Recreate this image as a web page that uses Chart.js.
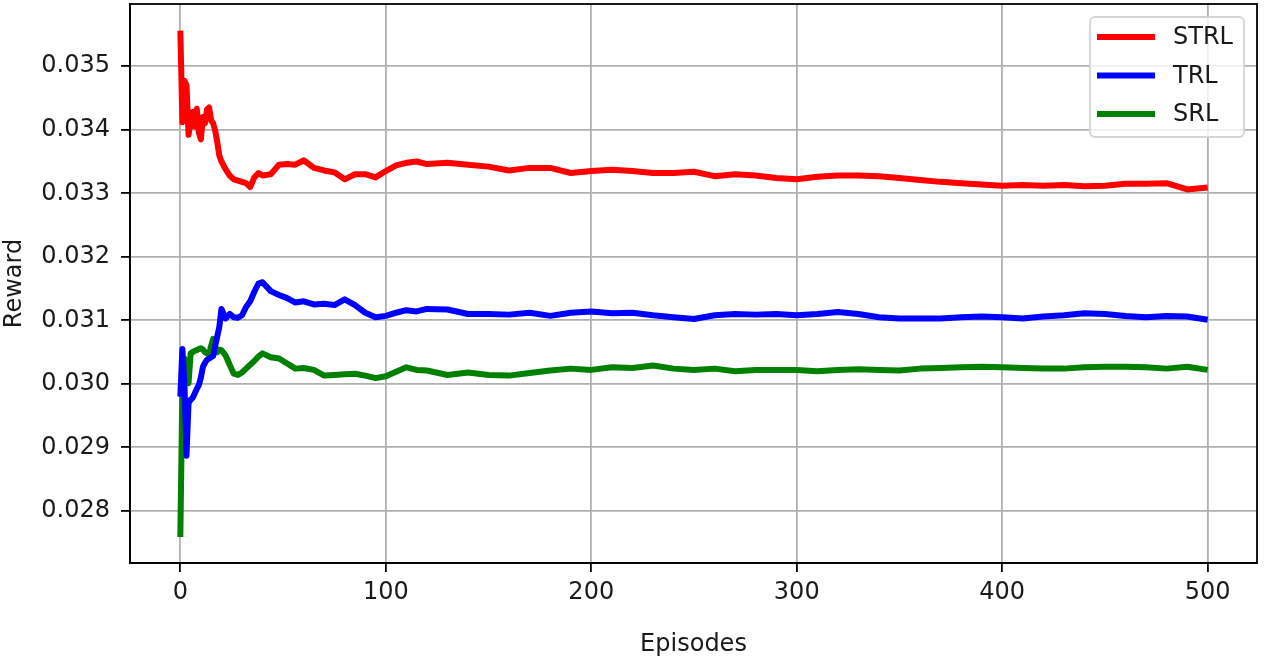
<!DOCTYPE html>
<html>
<head>
<meta charset="utf-8">
<script src="https://cdn.jsdelivr.net/npm/chart.js@4.4.1/dist/chart.umd.min.js"></script>
<style>
  html, body { margin: 0; padding: 0; background: #fff; }
  #wrap { width: 1275px; height: 662px; }
</style>
</head>
<body>
<div id="wrap"><canvas id="rewardChart" width="1275" height="662"></canvas></div>
<script>
// episodes (dense where the curves are noisy)
var episodes = [0, 1, 2, 3, 4, 5, 6, 7, 8, 9, 10, 11, 12, 13, 14, 15, 16, 17, 18, 19, 20,
    22, 24, 26, 28, 30, 32, 34, 36, 38, 40,
    44, 48, 52, 56, 60,
    65, 70, 75, 80, 85, 90, 95, 100, 105, 110, 115, 120,
    130, 140, 150, 160, 170, 180, 190, 200, 210, 220, 230, 240, 250, 260, 270, 280, 290, 300,
    310, 320, 330, 340, 350, 360, 370, 380, 390, 400, 410, 420, 430, 440, 450, 460, 470, 480, 490, 500];

var strlReward = [0.03556, 0.03412, 0.03477, 0.03470, 0.03392, 0.03415, 0.03428, 0.03405, 0.03433, 0.03395, 0.03385,
    0.03420, 0.03410, 0.03432, 0.03435, 0.03415, 0.03410, 0.03398, 0.03380, 0.03359, 0.03350,
    0.03338, 0.03328, 0.03322, 0.03320, 0.03318, 0.03316, 0.03310, 0.03325, 0.03332, 0.03328,
    0.03330, 0.03345, 0.03346, 0.03345, 0.03352,
    0.03340, 0.03336, 0.03333, 0.03322, 0.03330, 0.03330, 0.03325, 0.03335, 0.03344, 0.03348, 0.03350, 0.03346,
    0.03348, 0.03345, 0.03342, 0.03336, 0.03340, 0.03340, 0.03332, 0.03335, 0.03337, 0.03335,
    0.03332, 0.03332, 0.03334, 0.03327, 0.03330, 0.03328, 0.03324, 0.03322, 0.03326, 0.03328,
    0.03328, 0.03327, 0.03324, 0.03321, 0.03318, 0.03316, 0.03314, 0.03312, 0.03313, 0.03312,
    0.03313, 0.03311, 0.03312, 0.03315, 0.03315, 0.03316, 0.03306, 0.03309];

var trlReward = [0.02980, 0.03055, 0.03000, 0.02887, 0.02970, 0.02975, 0.02978, 0.02985, 0.02992, 0.02998, 0.03010,
    0.03027, 0.03033, 0.03038, 0.03040, 0.03042, 0.03044, 0.03060, 0.03075, 0.03090, 0.03118,
    0.03103, 0.03110, 0.03105, 0.03104, 0.03108, 0.03121, 0.03130, 0.03145, 0.03158, 0.03160,
    0.03146, 0.03140, 0.03135, 0.03128, 0.03130,
    0.03125, 0.03126, 0.03124, 0.03133, 0.03124, 0.03112, 0.03105, 0.03107, 0.03112, 0.03116, 0.03114, 0.03118,
    0.03117, 0.03110, 0.03110, 0.03109, 0.03112, 0.03107, 0.03112, 0.03114, 0.03111, 0.03112,
    0.03108, 0.03105, 0.03102, 0.03108, 0.03110, 0.03109, 0.03110, 0.03108, 0.03110, 0.03113,
    0.03110, 0.03105, 0.03103, 0.03103, 0.03103, 0.03105, 0.03106, 0.03105, 0.03103, 0.03106,
    0.03108, 0.03111, 0.03110, 0.03107, 0.03105, 0.03107, 0.03106, 0.03101];

var srlReward = [0.02759, 0.02998, 0.03040, 0.03020, 0.03001, 0.03048, 0.03050, 0.03052, 0.03053, 0.03055, 0.03056,
    0.03054, 0.03050, 0.03048, 0.03046, 0.03060, 0.03071, 0.03058, 0.03050, 0.03054, 0.03053,
    0.03045, 0.03030, 0.03016, 0.03014, 0.03018, 0.03024, 0.03030, 0.03036, 0.03043, 0.03048,
    0.03042, 0.03040, 0.03032, 0.03024, 0.03025,
    0.03022, 0.03013, 0.03014, 0.03015, 0.03016, 0.03013, 0.03009, 0.03012, 0.03019, 0.03026, 0.03022, 0.03021,
    0.03014, 0.03018, 0.03014, 0.03013, 0.03017, 0.03021, 0.03024, 0.03022, 0.03026, 0.03025,
    0.03029, 0.03024, 0.03022, 0.03024, 0.03020, 0.03022, 0.03022, 0.03022, 0.03020, 0.03022,
    0.03023, 0.03022, 0.03021, 0.03024, 0.03025, 0.03026, 0.03027, 0.03026, 0.03025, 0.03024,
    0.03024, 0.03026, 0.03027, 0.03027, 0.03026, 0.03024, 0.03027, 0.03022];

var seriesNames = ['STRL', 'TRL', 'SRL'];
var seriesColors = ['#ff0000', '#0000ff', '#008000'];
var xTicks = [0, 100, 200, 300, 400, 500];
var yTicks = [0.028, 0.029, 0.030, 0.031, 0.032, 0.033, 0.034, 0.035];

var FONT = '"DejaVu Sans", sans-serif';
var TEXT = '#1a1a1a';
var GRID = '#b0b0b0';

function toPoints(values) {
    return episodes.map(function (e, i) { return { x: e, y: values[i] }; });
}

// frame around the plot (matplotlib spines)
var frame = {
    id: 'frame',
    afterDatasetsDraw: function (chart) {
        var a = chart.chartArea, ctx = chart.ctx;
        ctx.save();
        ctx.strokeStyle = '#000';
        ctx.lineWidth = 1.8;
        ctx.strokeRect(a.left, a.top, a.right - a.left, a.bottom - a.top);
        ctx.restore();
    }
};

// legend box in the upper right corner
var legendBox = {
    id: 'legendBox',
    afterDraw: function (chart) {
        var a = chart.chartArea, ctx = chart.ctx;
        var w = 154, h = 120;
        var x0 = a.right - 13 - w, y0 = a.top + 13;
        ctx.save();
        ctx.beginPath();
        ctx.roundRect(x0, y0, w, h, 5);
        ctx.fillStyle = 'rgba(255,255,255,0.8)';
        ctx.fill();
        ctx.strokeStyle = '#d4d4d4';
        ctx.lineWidth = 1.8;
        ctx.stroke();
        ctx.font = '24px ' + FONT;
        ctx.textBaseline = 'middle';
        chart.data.datasets.forEach(function (ds, i) {
            var cy = y0 + 20 + i * 38.5;
            ctx.strokeStyle = ds.borderColor;
            ctx.lineWidth = 6;
            ctx.beginPath();
            ctx.moveTo(x0 + 7, cy);
            ctx.lineTo(x0 + 65, cy);
            ctx.stroke();
            ctx.fillStyle = TEXT;
            ctx.fillText(ds.label, x0 + 83, cy + 1);
        });
        ctx.restore();
    }
};

function noPad(scale) {
    scale.paddingTop = 0;
    scale.paddingBottom = 0;
    scale.paddingLeft = 0;
    scale.paddingRight = 0;
}

var ctx = document.getElementById('rewardChart');
var rewardChart = new Chart(ctx, {
    type: 'line',
    data: {
        datasets: [
            { label: seriesNames[0], data: toPoints(strlReward), borderColor: seriesColors[0] },
            { label: seriesNames[1], data: toPoints(trlReward), borderColor: seriesColors[1] },
            { label: seriesNames[2], data: toPoints(srlReward), borderColor: seriesColors[2] }
        ]
    },
    options: {
        responsive: false,
        animation: false,
        devicePixelRatio: 1,
        layout: {
            padding: { left: 0, right: 18, top: 4, bottom: 0 }
        },
        elements: {
            point: { radius: 0, hoverRadius: 0 },
            line: { borderWidth: 6, tension: 0, borderJoinStyle: 'round', fill: false }
        },
        plugins: {
            legend: { display: false },
            tooltip: { enabled: false }
        },
        scales: {
            x: {
                type: 'linear',
                min: -24.5,
                max: 524,
                afterBuildTicks: function (scale) {
                    scale.ticks = xTicks.map(function (v) { return { value: v }; });
                },
                afterFit: function (scale) {
                    scale.height = 99;
                    noPad(scale);
                },
                ticks: {
                    autoSkip: false,
                    maxRotation: 0,
                    padding: 6,
                    color: TEXT,
                    font: { family: FONT, size: 24 },
                    callback: function (val) { return String(val); }
                },
                grid: {
                    color: GRID,
                    lineWidth: 1.8,
                    tickLength: 9,
                    tickColor: '#000',
                    tickWidth: 1.8
                },
                border: { display: true, color: '#000', width: 1.8 },
                title: {
                    display: true,
                    text: 'Episodes',
                    color: TEXT,
                    font: { family: FONT, size: 24 },
                    padding: { top: 0, bottom: 3 }
                }
            },
            y: {
                type: 'linear',
                min: 0.02718,
                max: 0.03598,
                afterBuildTicks: function (scale) {
                    scale.ticks = yTicks.map(function (v) { return { value: v }; });
                },
                afterFit: function (scale) {
                    scale.width = 130;
                    noPad(scale);
                },
                ticks: {
                    padding: 11,
                    color: TEXT,
                    font: { family: FONT, size: 24 },
                    callback: function (val) { return Number(val).toFixed(3); }
                },
                grid: {
                    color: GRID,
                    lineWidth: 1.8,
                    tickLength: 9,
                    tickColor: '#000',
                    tickWidth: 1.8
                },
                border: { display: true, color: '#000', width: 1.8 },
                title: {
                    display: true,
                    text: 'Reward',
                    color: TEXT,
                    font: { family: FONT, size: 24 },
                    padding: { top: 0, bottom: 0 }
                }
            }
        }
    },
    plugins: [frame, legendBox]
});
</script>
</body>
</html>
